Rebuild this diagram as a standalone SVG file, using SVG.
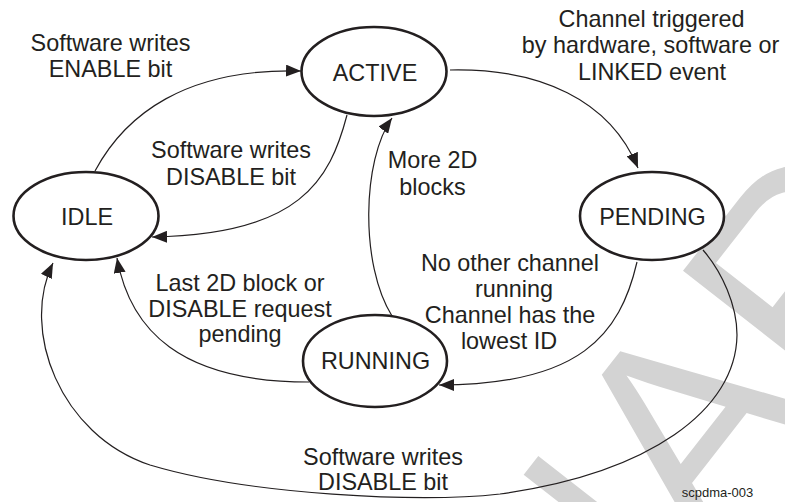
<svg xmlns="http://www.w3.org/2000/svg" width="785" height="502" viewBox="0 0 785 502">
<style>
.wm{font-family:"Liberation Sans",Arial,sans-serif;font-size:283px;fill:#d3d3d3}
.node ellipse{fill:#fff;stroke:#231f20;stroke-width:2.6}
.lbl{font-family:"Liberation Sans",Arial,sans-serif;font-size:23.4px;fill:#231f20;text-anchor:middle}
.edge path{fill:none;stroke:#231f20;stroke-width:1.2}
.fig{font-family:"Liberation Sans",Arial,sans-serif;font-size:13px;fill:#231f20}
</style>
<defs>
<marker id="arr" markerUnits="userSpaceOnUse" markerWidth="15" markerHeight="12" refX="15" refY="6" orient="auto">
<path d="M0,0 L15,6 L0,12 z" fill="#231f20"/>
</marker>
</defs>
<rect width="785" height="502" fill="#fff"/>
<text class="wm" transform="translate(-117,1611) rotate(-52)">PRELIMINARY</text>
<g id="connectors" class="edge">
<path d="M95,171 C125,115 185,68 301,71" marker-end="url(#arr)"/>
<path d="M347,115 C330,180 300,235 152,237" marker-end="url(#arr)"/>
<path d="M450,70 C540,68 610,100 638,168" marker-end="url(#arr)"/>
<path d="M637,262 C620,335 580,385 439,385" marker-end="url(#arr)"/>
<path d="M309,382 C180,382 130,330 117,258" marker-end="url(#arr)"/>
<path d="M392,316 C360,265 362,160 392,118" marker-end="url(#arr)"/>
<path d="M703,250 C722,272 737,305 737,335 C736,410 650,473 500,494 C420,503 250,495 150,465 C60,435 20,330 53,263" marker-end="url(#arr)"/>
</g>
<g id="labels">
<text class="lbl" x="110.5" y="51">Software writes</text>
<text class="lbl" x="110.5" y="77">ENABLE bit</text>
<text class="lbl" x="231" y="158">Software writes</text>
<text class="lbl" x="231" y="185">DISABLE bit</text>
<text class="lbl" x="432.5" y="168">More 2D</text>
<text class="lbl" x="432.5" y="195">blocks</text>
<text class="lbl" x="651.5" y="27">Channel triggered</text>
<text class="lbl" x="650.5" y="53">by hardware, software or</text>
<text class="lbl" x="652" y="80">LINKED event</text>
<text class="lbl" x="510" y="271">No other channel</text>
<text class="lbl" x="514" y="297">running</text>
<text class="lbl" x="510" y="323">Channel has the</text>
<text class="lbl" x="509" y="349">lowest ID</text>
<text class="lbl" x="240" y="291">Last 2D block or</text>
<text class="lbl" x="240" y="317">DISABLE request</text>
<text class="lbl" x="240" y="342">pending</text>
<text class="lbl" x="383" y="465">Software writes</text>
<text class="lbl" x="383" y="490">DISABLE bit</text>
</g>
<g id="active" class="node"><ellipse cx="374" cy="71.5" rx="72.5" ry="44.5"/><text class="lbl" x="375" y="80.5">ACTIVE</text></g>
<g id="idle" class="node"><ellipse cx="86" cy="216" rx="72.5" ry="44"/><text class="lbl" x="87" y="225">IDLE</text></g>
<g id="pending" class="node"><ellipse cx="652" cy="216" rx="72" ry="44"/><text class="lbl" x="652.5" y="225">PENDING</text></g>
<g id="running" class="node"><ellipse cx="375" cy="361" rx="72" ry="46"/><text class="lbl" x="375.5" y="369">RUNNING</text></g>
<text class="fig" x="681.7" y="497">scpdma-003</text>
</svg>
